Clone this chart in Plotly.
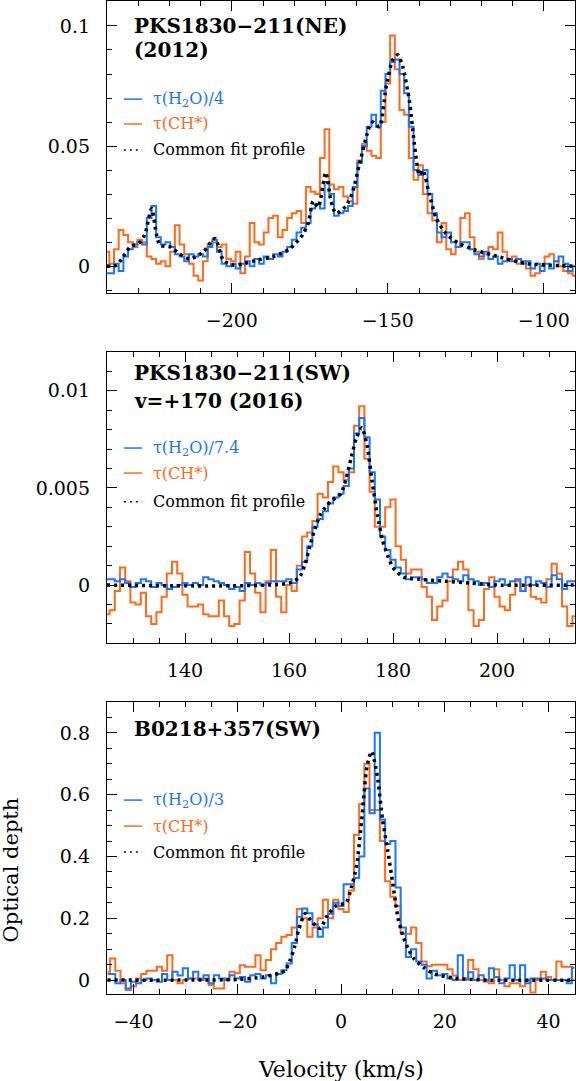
import numpy as np
import plotly.graph_objects as go

# ---------------- data ----------------
# PKS1830-211 (NE), 2012 : channels start at -240 km/s, 1.5 km/s wide
ne_v0, ne_dv = -240.0, 1.5
ne_h2o = [-0.003, -0.003, 0.001, -0.002, 0.004, 0.007, 0.009, 0.010, 0.009, 0.020,
          0.025, 0.012, 0.009, 0.010, 0.008, 0.005, 0.004, 0.002, 0.005, 0.004,
          0.005, 0.004, 0.008, 0.011, 0.006, 0.001, 0.000, 0.001, -0.001, 0.001,
          0.002, 0.000, 0.003, 0.001, 0.004, 0.003, 0.005, 0.004, 0.006, 0.008,
          0.011, 0.014, 0.016, 0.018, 0.024, 0.026, 0.024, 0.035, 0.030, 0.021,
          0.022, 0.023, 0.025, 0.033, 0.043, 0.050, 0.058, 0.063, 0.058, 0.073,
          0.080, 0.085, 0.086, 0.080, 0.072, 0.058, 0.040, 0.038, 0.040, 0.030,
          0.022, 0.014, 0.012, 0.014, 0.010, 0.008, 0.010, 0.010, 0.007, 0.005,
          0.004, 0.006, 0.003, 0.004, 0.001, 0.002, 0.003, 0.002, 0.003, 0.001,
          0.002, -0.001, 0.001, -0.002, 0.001, -0.001, 0.002, 0.004, 0.001, -0.002,
          0.000]
ne_ch = [0.006, 0.001, 0.007, 0.015, 0.013, 0.010, 0.008, 0.011, 0.010, 0.004,
         0.003, 0.001, 0.002, 0.000, 0.006, 0.017, 0.009, 0.005, 0.001, -0.004,
         -0.006, 0.002, 0.009, 0.010, 0.008, 0.009, 0.003, 0.002, 0.006, -0.003,
         0.004, 0.018, 0.010, 0.009, 0.014, 0.020, 0.021, 0.012, 0.015, 0.020,
         0.022, 0.023, 0.018, 0.033, 0.031, 0.030, 0.045, 0.057, 0.034, 0.032,
         0.033, 0.029, 0.027, 0.026, 0.044, 0.051, 0.048, 0.046, 0.045, 0.060,
         0.076, 0.096, 0.082, 0.065, 0.063, 0.045, 0.036, 0.042, 0.030, 0.022,
         0.019, 0.010, 0.018, 0.007, 0.005, 0.008, 0.020, 0.022, 0.012, 0.006,
         0.003, 0.005, 0.008, 0.007, 0.014, 0.006, 0.002, 0.004, 0.001, 0.002,
         -0.001, -0.004, -0.003, 0.000, 0.004, 0.005, 0.002, 0.000, -0.002, -0.003,
         -0.004]
ne_fit_v = [-240, -236.9, -234.8, -232.6, -229.4, -227.8, -225.7, -224.1, -223, -219.8,
            -216.6, -213.4, -209.1, -205.4, -202.7, -199.5, -196.3, -192, -186.7, -181.3,
            -177.1, -175.5, -173.9, -172.3, -169.9, -168.2, -166.6, -163.4, -161.25, -159.1,
            -155.9, -154.8, -152.7, -150.6, -148.4, -146.8, -145.2, -143.1, -141.5, -139.9,
            -138.8, -136.7, -134.5, -131.3, -127.1, -121.7, -116.4, -105.7, -95, -90]
ne_fit = [0, 0.0004, 0.004, 0.008, 0.010, 0.0135, 0.024, 0.013, 0.0087, 0.008,
          0.005, 0.003, 0.006, 0.0115, 0.0025, 0.0004, 0.001, 0.0025, 0.004, 0.0073,
          0.0135, 0.018, 0.027, 0.0246, 0.039, 0.027, 0.022, 0.025, 0.031, 0.0425,
          0.058, 0.060, 0.058, 0.074, 0.086, 0.088, 0.083, 0.069, 0.051, 0.038,
          0.040, 0.030, 0.020, 0.0135, 0.0094, 0.0066, 0.0046, 0.0011, 0.0002, 0]

# PKS1830-211 (SW), v=+170, 2016 : channels start at 125 km/s, 1 km/s wide
sw_v0, sw_dv = 125.0, 1.0
sw_h2o = [0.0003, 0.0003, 0.0002, 0.0003, 0.0001, -0.0001, 0.0001, 0.0003, 0.0002, -0.0001,
          0.0001, 0.0000, -0.0002, -0.0001, 0.0000, 0.0001, 0.0000, 0.0001, 0.0000, 0.0004,
          0.0003, 0.0002, 0.0001, 0.0000, -0.0002, -0.0001, -0.0003, 0.0001, 0.0000, 0.0001,
          0.0000, 0.0001, 0.0002, 0.0002, 0.0002, 0.0003, 0.0001, 0.0008, 0.0012, 0.0020,
          0.0030, 0.0034, 0.0038, 0.0042, 0.0045, 0.0047, 0.0051, 0.0060, 0.0078, 0.0086,
          0.0076, 0.0058, 0.0044, 0.0025, 0.0018, 0.0013, 0.0009, 0.0006, 0.0003, 0.0004,
          0.0004, 0.0003, 0.0001, 0.0001, 0.0004, 0.0006, 0.0004, 0.0003, 0.0002, 0.0005,
          0.0003, 0.0002, 0.0000, 0.0001, -0.0001, 0.0002, 0.0003, 0.0000, 0.0002, 0.0003,
          -0.0003, 0.0004, 0.0000, 0.0002, 0.0001, -0.0001, 0.0005, 0.0003, -0.0002, 0.0002,
          0.0002]
sw_ch = [-0.0015, -0.0013, -0.0003, 0.0009, 0.0002, -0.0009, -0.0010, -0.0004, -0.0016, -0.0020,
         -0.0014, -0.0006, 0.0006, 0.0012, 0.0006, -0.0005, -0.0011, -0.0011, -0.0010, -0.0015,
         -0.0016, -0.0016, -0.0008, -0.0016, -0.0021, -0.0020, -0.0008, 0.0017, 0.0006, -0.0004,
         -0.0014, 0.0002, 0.0018, -0.0006, -0.0014, 0.0000, -0.0003, 0.0010, 0.0025, 0.0027,
         0.0033, 0.0047, 0.0045, 0.0053, 0.0061, 0.0058, 0.0054, 0.0058, 0.0082, 0.0092,
         0.0065, 0.0048, 0.0030, 0.0030, 0.0040, 0.0044, 0.0020, 0.0013, 0.0006, 0.0008,
         0.0008, -0.0001, -0.0006, -0.0018, -0.0011, -0.0008, 0.0002, 0.0008, 0.0012, 0.0008,
         -0.0013, -0.0021, -0.0018, -0.0002, 0.0004, -0.0006, -0.0011, -0.0013, -0.0005, 0.0002,
         -0.0003, 0.0000, -0.0006, -0.0007, -0.0009, 0.0003, 0.0011, 0.0006, -0.0011, -0.0021,
         -0.0016]
sw_fit_v = [125, 160, 162, 163, 164, 165, 166, 167, 168, 169, 170, 171, 172, 173, 174,
            175, 176, 177, 178, 179, 180, 182, 185, 190, 195, 200, 215]
sw_fit = [0, 0.0001, 0.0004, 0.0010, 0.0020, 0.0029, 0.0036, 0.0040, 0.0043, 0.0045, 0.0047,
          0.0055, 0.0066, 0.0076, 0.0081, 0.0072, 0.0053, 0.0036, 0.0023, 0.0015, 0.0009,
          0.0004, 0.0003, 0.0002, 0.0001, 0, 0]

# B0218+357 (SW) : channels start at -45 km/s, 1 km/s wide
b0_v0, b0_dv = -45.0, 1.0
b0_h2o = [0.02, 0.02, -0.01, 0.0, -0.027, -0.005, -0.01, 0.0, 0.005, 0.0,
          -0.005, 0.02, 0.0, 0.027, 0.015, 0.038, 0.005, 0.027, 0.0, 0.016,
          -0.01, 0.016, 0.005, 0.0, 0.016, 0.005, 0.01, -0.005, 0.016, 0.02,
          0.005, 0.016, -0.01, 0.02, 0.032, 0.054, 0.12, 0.205, 0.232, 0.216,
          0.18, 0.14, 0.17, 0.215, 0.25, 0.24, 0.31, 0.31, 0.33, 0.40,
          0.62, 0.54, 0.80, 0.52, 0.44, 0.45, 0.30, 0.17, 0.075, 0.10,
          0.06, 0.05, 0.005, 0.03, 0.016, 0.02, 0.005, 0.0, 0.08, 0.005,
          0.025, 0.0, 0.016, 0.0, 0.038, 0.01, -0.01, 0.005, 0.048, 0.0,
          0.048, -0.01, 0.005, 0.005, 0.005, 0.0, 0.0, 0.0, 0.0, -0.01,
          0.04]
b0_ch = [0.027, 0.07, 0.03, -0.01, -0.032, -0.02, 0.005, 0.02, 0.03, 0.03,
         0.043, 0.03, 0.08, 0.0, -0.01, 0.0, 0.005, 0.005, 0.005, 0.005,
         -0.016, -0.027, -0.027, 0.005, 0.027, 0.022, 0.048, 0.043, 0.043, 0.08,
         0.032, 0.065, 0.10, 0.12, 0.14, 0.146, 0.17, 0.23, 0.20, 0.14,
         0.17, 0.20, 0.26, 0.20, 0.26, 0.23, 0.22, 0.29, 0.47, 0.57,
         0.70, 0.55, 0.55, 0.45, 0.32, 0.27, 0.24, 0.15, 0.15, 0.17,
         0.12, 0.06, 0.045, 0.05, 0.05, 0.05, 0.035, 0.015, 0.0, 0.0,
         0.065, 0.035, 0.0, -0.005, -0.01, 0.035, 0.0, -0.02, -0.01, -0.01,
         -0.02, 0.0, -0.04, 0.0, 0.027, 0.01, 0.0, 0.06, 0.043, 0.043,
         0.0]
b0_fit_v = [-45, -30, -20, -15, -12, -10.8, -9.8, -8.9, -8.2, -6.9, -5.7, -4, -2.8, -1, 0,
            1, 2, 3, 4, 5, 5.9, 7, 8, 9, 10, 11, 12, 13, 14, 16, 18, 22, 28, 45]
b0_fit = [0, 0, 0.002, 0.01, 0.022, 0.03, 0.065, 0.11, 0.16, 0.215, 0.19, 0.167, 0.205, 0.24, 0.245,
          0.25, 0.30, 0.37, 0.52, 0.69, 0.74, 0.66, 0.52, 0.42, 0.31, 0.20, 0.14, 0.10, 0.07,
          0.04, 0.02, 0.006, 0.0, 0]

BLUE = "#1a75ff"
ORANGE = "#ff6a1a"
FONT = "DejaVu Serif"

panels = [
    dict(v0=ne_v0, dv=ne_dv, h2o=ne_h2o, ch=ne_ch, fv=ne_fit_v, fit=ne_fit,
         xr=[-240, -90], yr=[-0.0112, 0.1104], xd=50, xm=10, yd=0.05, ym=0.01,
         dom=[0.7059, 1.0], title=["PKS1830\u2212211(NE)", "(2012)"], ty=[0.914, 0.832],
         ly=[0.664, 0.579, 0.490], scale="4"),
    dict(v0=sw_v0, dv=sw_dv, h2o=sw_h2o, ch=sw_ch, fv=sw_fit_v, fit=sw_fit,
         xr=[125, 215], yr=[-0.00298, 0.01199], xd=20, xm=5, yd=0.005, ym=0.001,
         dom=[0.3535, 0.6465], title=["PKS1830\u2212211(SW)", "v=+170 (2016)"], ty=[0.928, 0.832],
         ly=[0.670, 0.584, 0.485], scale="7.4"),
    dict(v0=b0_v0, dv=b0_dv, h2o=b0_h2o, ch=b0_ch, fv=b0_fit_v, fit=b0_fit,
         xr=[-45.1, 45.1], yr=[-0.045, 0.9], xd=20, xm=5, yd=0.2, ym=0.05,
         dom=[0.0, 0.2941], title=["B0218+357(SW)"], ty=[0.908],
         ly=[0.664, 0.575, 0.486], scale="3"),
]

fig = go.Figure()
annotations = []
shapes = []

for i, p in enumerate(panels):
    n = "" if i == 0 else str(i + 1)
    xa, ya = "x" + n, "y" + n
    vel_h = p["v0"] + p["dv"] * np.arange(len(p["h2o"]))
    vel_c = p["v0"] + p["dv"] * np.arange(len(p["ch"]))

    fig.add_trace(go.Scatter(x=vel_c, y=p["ch"], mode="lines", line_shape="hvh",
                             line=dict(color=ORANGE, width=2), xaxis=xa, yaxis=ya,
                             showlegend=False))
    fig.add_trace(go.Scatter(x=vel_h, y=p["h2o"], mode="lines", line_shape="hvh",
                             line=dict(color=BLUE, width=2), xaxis=xa, yaxis=ya,
                             showlegend=False))
    fig.add_trace(go.Scatter(x=p["fv"], y=p["fit"], mode="lines", line_shape="spline",
                             line=dict(color="black", width=3.5, dash="3px,4px", smoothing=0.7),
                             xaxis=xa, yaxis=ya, showlegend=False))

    common = dict(showline=True, linecolor="black", linewidth=1.3, mirror="ticks",
                  ticks="inside", ticklen=10, tickwidth=1.2, tickcolor="black",
                  showgrid=False, zeroline=False, automargin=False,
                  tickfont=dict(family=FONT, size=19, color="black"))
    fig.layout["xaxis" + n] = dict(common, range=p["xr"], dtick=p["xd"], tick0=0,
                                   anchor=ya, domain=[0, 1], ticklabelstandoff=10,
                                   minor=dict(dtick=p["xm"], ticks="inside", ticklen=5,
                                              tickcolor="black", tickwidth=1.2))
    fig.layout["yaxis" + n] = dict(common, range=p["yr"], dtick=p["yd"], tick0=0,
                                   anchor=xa, domain=p["dom"], ticklabelstandoff=12,
                                   minor=dict(dtick=p["ym"], ticks="inside", ticklen=5,
                                              tickcolor="black", tickwidth=1.2))

    xref, yref = xa + " domain", ya + " domain"
    for line, ty in zip(p["title"], p["ty"]):
        annotations.append(dict(text="<b>" + line + "</b>", x=0.053, y=ty, xref=xref, yref=yref,
                                xanchor="left", yanchor="middle", showarrow=False,
                                font=dict(family=FONT, size=20, color="black")))
    labels = ["\u03c4(H<sub>2</sub>O)/" + p["scale"], "\u03c4(CH*)", "Common fit profile"]
    colors = [BLUE, ORANGE, "black"]
    for lab, col, ly in zip(labels, colors, p["ly"]):
        annotations.append(dict(text=lab, x=0.094, y=ly, xref=xref, yref=yref,
                                xanchor="left", yanchor="middle", showarrow=False,
                                font=dict(family=FONT, size=16, color=col)))
    for col, ly, dash in zip(colors, p["ly"], ["solid", "solid", "2px,4px"]):
        shapes.append(dict(type="line", xref=xref, yref=yref, x0=0.036, x1=0.075,
                           y0=ly, y1=ly, line=dict(color=col, width=1.5, dash=dash)))

annotations.append(dict(text="Velocity (km/s)", x=0.50, y=-0.0765, xref="paper", yref="paper",
                        xanchor="center", yanchor="middle", showarrow=False,
                        font=dict(family=FONT, size=22, color="black")))
annotations.append(dict(text="Optical depth", x=-0.206, y=0.125, xref="paper", yref="paper",
                        xanchor="center", yanchor="middle", textangle=-90, showarrow=False,
                        borderpad=0, font=dict(family=FONT, size=21, color="black")))

fig.update_layout(width=576, height=1081, margin=dict(l=107, r=1, t=1, b=87),
                  plot_bgcolor="white", paper_bgcolor="white",
                  annotations=annotations, shapes=shapes, showlegend=False)

# the page body has a default 8px margin; drop it so the figure fills the window
fig.write_html("out.html", config={"displayModeBar": False},
               post_script="document.body.style.margin='0';")
